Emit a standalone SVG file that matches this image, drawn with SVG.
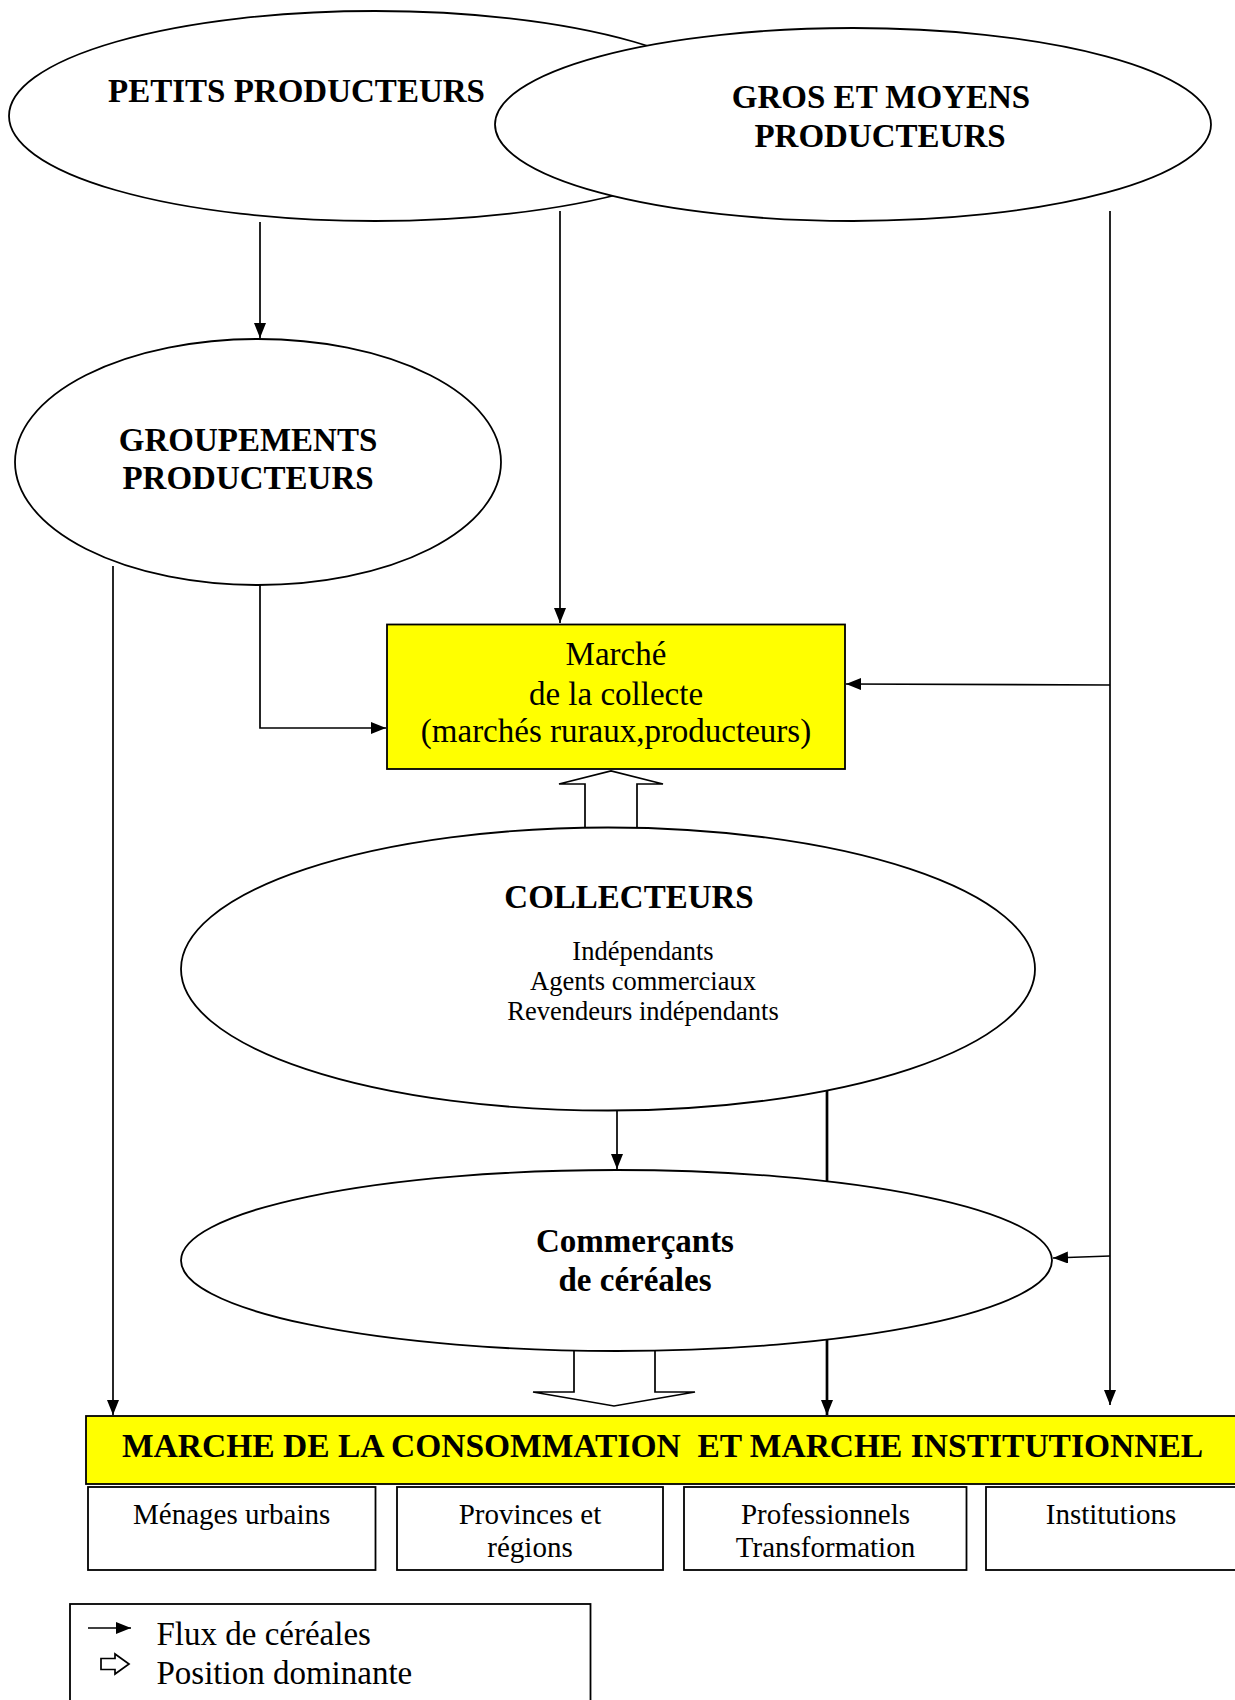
<svg xmlns="http://www.w3.org/2000/svg" width="1235" height="1700" viewBox="0 0 1235 1700">
<style>
.el{fill:#fff;stroke:#000;stroke-width:1.8}
.box{fill:#fff;stroke:#000;stroke-width:1.8}
.yel{fill:#ffff00;stroke:#000;stroke-width:1.8}
.ln{fill:none;stroke:#000;stroke-width:1.7}
.thick{fill:none;stroke:#000;stroke-width:2.7}
.hol{fill:#fff;stroke:#000;stroke-width:1.7;stroke-linejoin:miter}
.b{font-family:"Liberation Serif","Times New Roman",serif;font-weight:bold;font-size:33px;fill:#000}
.r{font-family:"Liberation Serif","Times New Roman",serif;font-size:33px;fill:#000}
.s{font-family:"Liberation Serif","Times New Roman",serif;font-size:26.5px;fill:#000}
.t{font-family:"Liberation Serif","Times New Roman",serif;font-size:29px;fill:#000}
.m{text-anchor:middle}
</style>
<defs>
<marker id="ah" viewBox="0 0 15 12" refX="15" refY="6" markerWidth="15" markerHeight="12" markerUnits="userSpaceOnUse" orient="auto">
<path d="M0,0 L15,6 L0,12 z" fill="#000"/>
</marker>
</defs>
<rect width="1235" height="1700" fill="#fff"/>
<g id="connectors">
<line class="ln" x1="260" y1="222" x2="260" y2="338" marker-end="url(#ah)"/>
<line class="ln" x1="560" y1="211" x2="560" y2="623" marker-end="url(#ah)"/>
<polyline class="ln" points="260,585 260,728 386,728" marker-end="url(#ah)"/>
<line class="ln" x1="1110" y1="211" x2="1110" y2="1405" marker-end="url(#ah)"/>
<line class="ln" x1="1110" y1="685" x2="846" y2="684" marker-end="url(#ah)"/>
<line class="ln" x1="1110" y1="1256" x2="1053" y2="1258" marker-end="url(#ah)"/>
<line class="ln" x1="113" y1="566" x2="113" y2="1415" marker-end="url(#ah)"/>
<line class="ln" x1="617" y1="1105" x2="617" y2="1169" marker-end="url(#ah)"/>
<line class="thick" x1="827" y1="1085" x2="827" y2="1415" marker-end="url(#ah)"/>
<polygon class="hol" points="585,834 585,784 559,784 611,771 663,784 637,784 637,834"/>
<polygon class="hol" points="574,1345 574,1392 533,1392 614,1406 695,1392 655,1392 655,1345"/>
</g>
<g id="petits">
<ellipse class="el" cx="375" cy="116" rx="366" ry="105"/>
<text class="b m" x="296.5" y="102">PETITS PRODUCTEURS</text>
</g>
<g id="gros">
<ellipse class="el" cx="853" cy="124.5" rx="358" ry="96.5"/>
<text class="b m" x="881" y="108">GROS ET MOYENS</text>
<text class="b m" x="880" y="147">PRODUCTEURS</text>
</g>
<g id="groupements">
<ellipse class="el" cx="258" cy="462" rx="243" ry="123"/>
<text class="b m" x="248" y="451">GROUPEMENTS</text>
<text class="b m" x="248" y="488.5">PRODUCTEURS</text>
</g>
<g id="marche-collecte">
<rect class="yel" x="387" y="624.5" width="458" height="144.5"/>
<text class="r m" x="616" y="665">Marché</text>
<text class="r m" x="616" y="704.5">de la collecte</text>
<text class="r m" x="616" y="742">(marchés ruraux,producteurs)</text>
</g>
<g id="collecteurs">
<ellipse class="el" cx="608" cy="969" rx="427" ry="141.5"/>
<text class="b m" x="629" y="908">COLLECTEURS</text>
<text class="s m" x="643" y="960">Indépendants</text>
<text class="s m" x="643" y="990">Agents commerciaux</text>
<text class="s m" x="643" y="1020">Revendeurs indépendants</text>
</g>
<g id="commercants">
<ellipse class="el" cx="616.5" cy="1260.5" rx="435.5" ry="90.5"/>
<text class="b m" x="635" y="1252">Commerçants</text>
<text class="b m" x="635" y="1291">de céréales</text>
</g>
<g id="marche-consommation">
<rect class="yel" x="86" y="1416" width="1160" height="68"/>
<text class="b" x="122" y="1457" style="font-size:33.5px">MARCHE DE LA CONSOMMATION&#160; ET MARCHE INSTITUTIONNEL</text>
</g>
<g id="menages">
<rect class="box" x="88" y="1487" width="287.5" height="83"/>
<text class="t m" x="231.7" y="1524">Ménages urbains</text>
</g>
<g id="provinces">
<rect class="box" x="397" y="1487" width="266" height="83"/>
<text class="t m" x="530" y="1524">Provinces et</text>
<text class="t m" x="530" y="1557">régions</text>
</g>
<g id="professionnels">
<rect class="box" x="684" y="1487" width="282.5" height="83"/>
<text class="t m" x="825.5" y="1524">Professionnels</text>
<text class="t m" x="825.5" y="1557">Transformation</text>
</g>
<g id="institutions">
<rect class="box" x="986" y="1487" width="260" height="83"/>
<text class="t m" x="1111" y="1524">Institutions</text>
</g>
<g id="legende">
<rect class="box" x="70" y="1604" width="520.5" height="110"/>
<line class="ln" x1="88" y1="1628" x2="131" y2="1628" stroke-width="2.4" marker-end="url(#ah)"/>
<polygon class="hol" points="101,1658.5 115,1658.5 115,1654 129,1664 115,1674 115,1669.5 101,1669.5" stroke-width="2"/>
<text class="r" x="156.5" y="1645">Flux de céréales</text>
<text class="r" x="156.5" y="1684">Position dominante</text>
</g>
</svg>
